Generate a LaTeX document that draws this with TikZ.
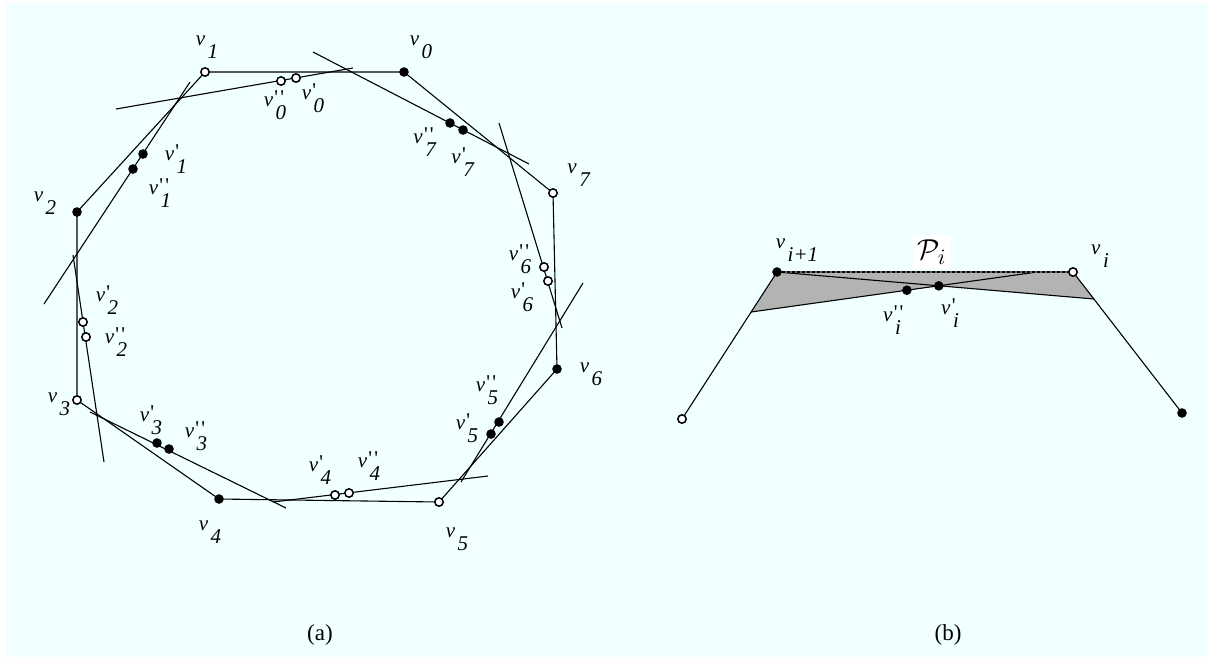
\documentclass[tikz,border=0pt]{standalone}
\usepackage{fontspec}
\setmainfont{Liberation Serif}
\usetikzlibrary{positioning,calc}
\definecolor{paper}{RGB}{240,255,255}
\definecolor{regiongray}{RGB}{179,179,179}
\newcommand{\pr}{\textquotesingle}
\newcommand{\ppr}{\textquotesingle\kern0.1em\textquotesingle}
\newcommand{\vname}[2][]{\textit{v}\rlap{\raisebox{0.1em}{\kern0.06em#1}}\kern0.12em\raisebox{-0.63em}{\textit{#2}}}

\begin{document}
\begin{tikzpicture}[
  x=0.5pt, y=-0.5pt, line width=0.55pt,
  fdot/.style={circle, fill=black, inner sep=0pt, minimum size=4.8pt},
  odot/.style={circle, draw, fill=white, line width=0.75pt, inner sep=0pt, minimum size=4.2pt},
  lbl/.style={font=\fontsize{10.5}{12}\selectfont, inner sep=0pt},
  captext/.style={font=\fontsize{11.5}{13}\selectfont},
]
\useasboundingbox (0,0) rectangle (1209,661);
\fill[white] (0,0) rectangle (1209,661);
\fill[paper] (5,3) rectangle (1208,657);

% (a)
\coordinate (v0) at (404,72);
\coordinate (v1) at (205,72);
\coordinate (v2) at (77,212);
\coordinate (v3) at (77,400);
\coordinate (v4) at (219,499);
\coordinate (v5) at (439,502);
\coordinate (v6) at (557,369);
\coordinate (v7) at (553,193);

\coordinate (a0) at (116,109);  \coordinate (b0) at (353,68);
\coordinate (a1) at (44,304);   \coordinate (b1) at (190,82);
\coordinate (a2) at (73,255);   \coordinate (b2) at (104,462);
\coordinate (a3) at (90,412);   \coordinate (b3) at (286,508);
\coordinate (a4) at (273,502);  \coordinate (b4) at (488,476);
\coordinate (a5) at (583,283);  \coordinate (b5) at (461,482);
\coordinate (a6) at (499,123);  \coordinate (b6) at (562,328);
\coordinate (a7) at (313,52);   \coordinate (b7) at (529,164);

\coordinate (p0) at (296,78);   \coordinate (q0) at (281,81);
\coordinate (p1) at (143,154);  \coordinate (q1) at (133,169);
\coordinate (p2) at (83,322);   \coordinate (q2) at (86,337);
\coordinate (p3) at (157,443);  \coordinate (q3) at (169,449);
\coordinate (p4) at (335,495);  \coordinate (q4) at (349,493);
\coordinate (p5) at (491,434);  \coordinate (q5) at (499,422);
\coordinate (p6) at (548,281);  \coordinate (q6) at (544,267);
\coordinate (p7) at (463,130);  \coordinate (q7) at (450,123);

\draw (v1) -- (v0) -- (v7) -- (v6) -- (v5) -- (v4) -- (v3) -- (v2) -- cycle;
\draw (a0) -- (b0);
\draw (a1) -- (b1);
\draw (a2) -- (b2);
\draw (a3) -- (b3);
\draw (a4) -- (b4);
\draw (a5) -- (b5);
\draw (a6) -- (b6);
\draw (a7) -- (b7);

\node[fdot] at (v0) {};
\node[odot] at (v1) {};
\node[fdot] at (v2) {};
\node[odot] at (v3) {};
\node[fdot] at (v4) {};
\node[odot] at (v5) {};
\node[fdot] at (v6) {};
\node[odot] at (v7) {};
\node[odot] at (p0) {};  \node[odot] at (q0) {};
\node[fdot] at (p1) {};  \node[fdot] at (q1) {};
\node[odot] at (p2) {};  \node[odot] at (q2) {};
\node[fdot] at (p3) {};  \node[fdot] at (q3) {};
\node[odot] at (p4) {};  \node[odot] at (q4) {};
\node[fdot] at (p5) {};  \node[fdot] at (q5) {};
\node[odot] at (p6) {};  \node[odot] at (q6) {};
\node[fdot] at (p7) {};  \node[fdot] at (q7) {};

\node[lbl] (n0) at (421,47) {\vname{0}};
\node[lbl] (n1) at (207,47) {\vname{1}};
\node[lbl] (n2) at (45,203) {\vname{2}};
\node[lbl] (n3) at (59,404) {\vname{3}};
\node[lbl] (n4) at (210,532) {\vname{4}};
\node[lbl] (n5) at (457,539) {\vname{5}};
\node[lbl] (n6) at (591,374) {\vname{6}};
\node[lbl] (n7) at (579,175) {\vname{7}};
\node[lbl] (np0) at (313,98) {\vname[\pr]{0}};
\node[lbl] (nq0) at (275,105) {\vname[\ppr]{0}};
\node[lbl] (np1) at (176,159) {\vname[\pr]{1}};
\node[lbl] (nq1) at (160,193) {\vname[\ppr]{1}};
\node[lbl] (np2) at (107,300) {\vname[\pr]{2}};
\node[lbl] (nq2) at (116,342) {\vname[\ppr]{2}};
\node[lbl] (np3) at (151,420) {\vname[\pr]{3}};
\node[lbl] (nq3) at (196,436) {\vname[\ppr]{3}};
\node[lbl] (np4) at (320,470) {\vname[\pr]{4}};
\node[lbl] (nq4) at (369,466) {\vname[\ppr]{4}};
\node[lbl] (np5) at (467,428) {\vname[\pr]{5}};
\node[lbl] (nq5) at (487,390) {\vname[\ppr]{5}};
\node[lbl] (np6) at (522,297) {\vname[\pr]{6}};
\node[lbl] (nq6) at (520,259) {\vname[\ppr]{6}};
\node[lbl] (np7) at (463,162) {\vname[\pr]{7}};
\node[lbl] (nq7) at (425,142) {\vname[\ppr]{7}};

% (b)
\coordinate (vip) at (777,272);
\coordinate (vi) at (1073,272);
\coordinate (lft) at (682,419);
\coordinate (rgt) at (1182,413);
\coordinate (cl) at (751,312);
\coordinate (cr) at (1094,299);
\coordinate (ct) at (1037,272);
\coordinate (vp) at (intersection of vip--cr and cl--ct);
\coordinate (vpp) at ($(cl)!0.545!(ct)$);

\fill[regiongray] (vip) -- (vi) -- (cr) -- (vp) -- (cl) -- cycle;
\draw (lft) -- (vip);
\draw (vi) -- (rgt);
\draw (vip) -- (cr);
\draw (cl) -- (ct);
\draw[black!60] (vip) -- (vi);
\draw[dash pattern=on 1.5pt off 1pt] (vip) -- (vi);

\node[fdot] at (vip) {};
\node[odot] at (vi) {};
\node[odot] at (lft) {};
\node[fdot] at (rgt) {};
\node[fdot] at (vpp) {};
\node[fdot] at (vp) {};

\node[lbl] (nip) at (797,250) {\vname{i+1}};
\node[lbl] (ni) at (1100,256) {\vname{i}};
\node[lbl] (nipp) at (892,320) {\vname[\ppr]{i}};
\node[lbl] (nip1) at (950,313) {\vname[\pr]{i}};
\node[fill=white, inner sep=2.5pt, font=\fontsize{15}{17}\selectfont] (pol) at (932,252) {$\mathcal{P}_i$};

\node[captext] (capa) at (320,635) {(a)};
\node[captext] (capb) at (948,635) {(b)};
\end{tikzpicture}
\end{document}
